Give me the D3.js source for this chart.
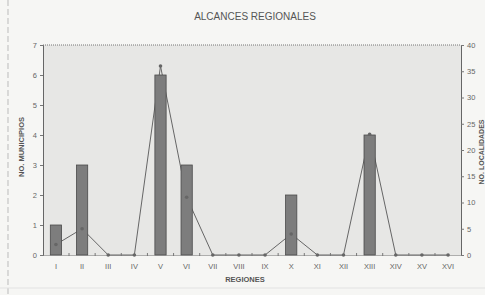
<!DOCTYPE html>
<html>
<head>
<meta charset="utf-8">
<script src="https://cdn.jsdelivr.net/npm/d3@7"></script>
<style>
  body { margin: 0; background: #f6f6f4; }
  svg { display: block; font-family: "Liberation Sans", Arial, sans-serif; }
</style>
</head>
<body>
<div id="chart"></div>
<script>
const regiones = ["I", "II", "III", "IV", "V", "VI", "VII", "VIII", "IX", "X", "XI", "XII", "XIII", "XIV", "XV", "XVI"];
const municipios = [1, 3, 0, 0, 6, 3, 0, 0, 0, 2, 0, 0, 4, 0, 0, 0];
const localidades = [2, 5, 0, 0, 36, 11, 0, 0, 0, 4, 0, 0, 23, 0, 0, 0];
const leftTicks = [0, 1, 2, 3, 4, 5, 6, 7];
const rightTicks = [0, 5, 10, 15, 20, 25, 30, 35, 40];

const width = 485;
const height = 295;
const margin = { top: 45, right: 24, bottom: 40, left: 43 };
const innerW = width - margin.left - margin.right;
const innerH = height - margin.top - margin.bottom;

const svg = d3.select("#chart").append("svg")
    .attr("width", width)
    .attr("height", height);

// faint scan lines around the chart
svg.append("line").attr("x1", 8).attr("x2", 8).attr("y1", 0).attr("y2", height)
    .attr("stroke", "#bbb").attr("stroke-dasharray", "6,3");
svg.append("line").attr("x1", 0).attr("x2", width).attr("y1", 288).attr("y2", 288)
    .attr("stroke", "#e2e2e2");

svg.append("text")
    .attr("x", 255).attr("y", 20)
    .attr("text-anchor", "middle")
    .attr("font-size", 10)
    .attr("fill", "#555")
    .text("ALCANCES REGIONALES");

const g = svg.append("g").attr("transform", `translate(${margin.left},${margin.top})`);

const x = d3.scaleBand().domain(regiones).range([0, innerW]).paddingInner(0.57).paddingOuter(0.28);
const yL = d3.scaleLinear().domain([0, 7]).range([innerH, 0]);
const yR = d3.scaleLinear().domain([0, 40]).range([innerH, 0]);
const cx = d => x(d) + x.bandwidth() / 2;

// plot area
g.append("rect")
    .attr("width", innerW).attr("height", innerH)
    .attr("fill", "#e7e7e5");
g.append("line").attr("x1", 0).attr("x2", innerW).attr("y1", 0).attr("y2", 0)
    .attr("stroke", "#777").attr("stroke-dasharray", "1,1");

// line (behind bars)
const line = d3.line()
    .x((d, i) => cx(regiones[i]))
    .y(d => yR(d));
g.append("path")
    .datum(localidades)
    .attr("d", line)
    .attr("fill", "none")
    .attr("stroke", "#666")
    .attr("stroke-width", 1);

g.selectAll("rect.bar")
    .data(municipios)
    .enter()
    .append("rect")
    .attr("class", "bar")
    .attr("x", (d, i) => x(regiones[i]))
    .attr("width", x.bandwidth())
    .attr("y", d => yL(d))
    .attr("height", d => innerH - yL(d))
    .attr("fill", "#7d7d7d")
    .attr("stroke", "#4a4a4a")
    .attr("stroke-width", 0.8);

g.selectAll("circle.pt")
    .data(localidades)
    .enter()
    .append("circle")
    .attr("class", "pt")
    .attr("cx", (d, i) => cx(regiones[i]))
    .attr("cy", d => yR(d))
    .attr("r", 1.8)
    .attr("fill", "#666");

// axes
const axL = g.append("g")
    .call(d3.axisLeft(yL).tickValues(leftTicks).tickFormat(d3.format("d")).tickSize(3).tickPadding(3));
const axR = g.append("g")
    .attr("transform", `translate(${innerW},0)`)
    .call(d3.axisRight(yR).tickValues(rightTicks).tickFormat(d3.format("d")).tickSize(3).tickPadding(3));
const axB = g.append("g")
    .attr("transform", `translate(0,${innerH})`)
    .call(d3.axisBottom(x).tickSize(0).tickPadding(9));

[axL, axR, axB].forEach(a => {
    a.selectAll("path").attr("stroke", "#666");
    a.selectAll("line").attr("stroke", "#777");
    a.selectAll("text").attr("fill", "#666").attr("font-size", 7.5)
        .attr("font-family", "'Liberation Sans', Arial, sans-serif");
});
axB.select("path").attr("stroke-dasharray", "1,1");

// small ticks between categories
g.append("g").selectAll("line")
    .data(regiones.slice(1))
    .enter()
    .append("line")
    .attr("x1", d => x(d) - x.step() * x.paddingInner() / 2)
    .attr("x2", d => x(d) - x.step() * x.paddingInner() / 2)
    .attr("y1", innerH - 2).attr("y2", innerH + 1)
    .attr("stroke", "#777");

svg.append("text")
    .attr("transform", `translate(24,${margin.top + 102}) rotate(-90)`)
    .attr("text-anchor", "middle")
    .attr("font-size", 7.5)
    .attr("font-weight", "bold")
    .attr("fill", "#555")
    .text("NO. MUNICIPIOS");

svg.append("text")
    .attr("transform", `translate(484,152) rotate(-90)`)
    .attr("text-anchor", "middle")
    .attr("font-size", 7)
    .attr("font-weight", "bold")
    .attr("fill", "#555")
    .text("NO. LOCALIDADES");

svg.append("text")
    .attr("x", 245).attr("y", 282)
    .attr("text-anchor", "middle")
    .attr("font-size", 7.5)
    .attr("font-weight", "bold")
    .attr("fill", "#555")
    .text("REGIONES");
</script>
</body>
</html>
